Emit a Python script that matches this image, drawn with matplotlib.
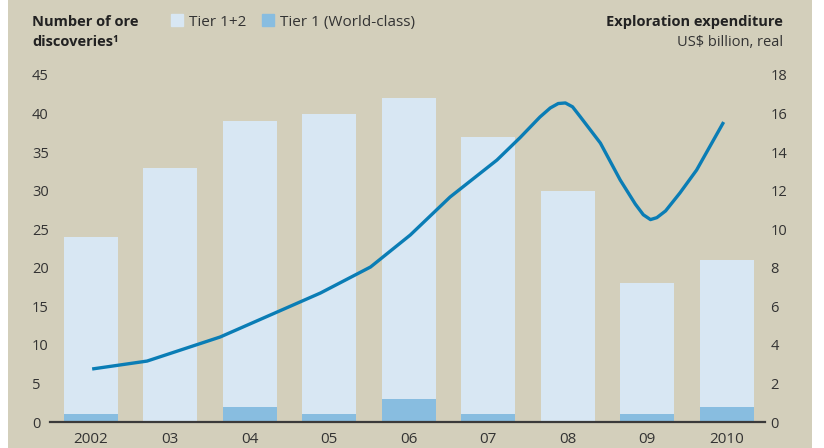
import numpy as np
import matplotlib.pyplot as plt
import matplotlib.patches as mpatches

plt.rcParams['font.family'] = ['Open Sans', 'DejaVu Sans']

# ── Data ─────────────────────────────────────────────────────────────────────
years = ['2002', '03', '04', '05', '06', '07', '08', '09', '2010']
tier12 = [24, 33, 39, 40, 42, 37, 30, 18, 21]
tier1 = [1, 0, 2, 1, 3, 1, 0, 1, 2]

# exploration expenditure (x in year-index units)
exp_x = [0.02, 0.71, 1.63, 2.26, 2.89, 3.52, 4.02, 4.52, 5.11, 5.40, 5.65,
         5.78, 5.88, 5.97, 6.06, 6.16, 6.41, 6.66, 6.85, 6.95, 7.04, 7.12,
         7.23, 7.41, 7.62, 7.96]
exp_y = [2.75, 3.16, 4.41, 5.55, 6.69, 8.04, 9.7, 11.67, 13.59, 14.75, 15.82,
         16.29, 16.52, 16.55, 16.35, 15.82, 14.47, 12.55, 11.3, 10.75, 10.5,
         10.6, 10.95, 11.88, 13.07, 15.56]

BG = '#d3cfbb'
LIGHT = '#d8e7f3'
DARK = '#88bde0'
LINE = '#0a7db5'
TXT = '#333333'

# ── Plot ─────────────────────────────────────────────────────────────────────
fig = plt.figure(figsize=(8.24, 4.48), dpi=100)
fig.patch.set_facecolor('white')
fig.patches.append(mpatches.Rectangle((8 / 824, 0), (812 - 8) / 824, 1,
                                      transform=fig.transFigure,
                                      facecolor=BG, edgecolor='none', zorder=-10))

ax = fig.add_axes([50 / 824, 26 / 448, 715 / 824, 347 / 448])
ax.set_facecolor('none')
x = np.arange(len(years))
ax.bar(x, tier12, width=0.68, color=LIGHT, zorder=2)
ax.bar(x, tier1, width=0.68, color=DARK, zorder=3)
ax.set_xlim(-0.51, 8.48)
ax.set_ylim(0, 45)
ax.set_yticks(range(0, 46, 5))
ax.set_xticks(x)
ax.set_xticklabels(years)

ax2 = ax.twinx()
ax2.plot(exp_x, exp_y, color=LINE, linewidth=2.4, solid_capstyle='butt',
         solid_joinstyle='round', zorder=5)
ax2.set_ylim(0, 18)
ax2.set_yticks(range(0, 19, 2))

for a in (ax, ax2):
    for s in a.spines.values():
        s.set_visible(False)
    a.tick_params(length=0, labelsize=10.5, colors=TXT)
ax.spines['bottom'].set_visible(True)
ax.spines['bottom'].set_color('#3a3a3a')
ax.spines['bottom'].set_linewidth(1.6)
ax.spines['bottom'].set_zorder(6)
ax.tick_params(axis='x', pad=7, labelsize=11)
ax.tick_params(axis='y', pad=13)
for lbl in ax.get_yticklabels():
    lbl.set_horizontalalignment('left')
ax2.tick_params(axis='y', pad=4)

# ── Header texts ─────────────────────────────────────────────────────────────
fig.text(32 / 824, 1 - 22 / 448, 'Number of ore', fontsize=10.5,
         fontweight='bold', color='#222222', ha='left', va='center')
fig.text(32 / 824, 1 - 42 / 448, 'discoveries\u00b9', fontsize=10.5,
         fontweight='bold', color='#222222', ha='left', va='center')
fig.text(783 / 824, 1 - 22 / 448, 'Exploration expenditure', fontsize=10.5,
         fontweight='bold', color='#222222', ha='right', va='center')
fig.text(783 / 824, 1 - 42 / 448, 'US$ billion, real', fontsize=10.5,
         color=TXT, ha='right', va='center')

handles = [mpatches.Patch(color=LIGHT, label='Tier 1+2'),
           mpatches.Patch(color=DARK, label='Tier 1 (World-class)')]
fig.legend(handles=handles, loc='center left', bbox_to_anchor=(157 / 824, 1 - 22 / 448),
           ncol=2, frameon=False, fontsize=11, handlelength=0.8, handleheight=0.8,
           handletextpad=0.4, columnspacing=1.0, labelcolor=TXT)

plt.savefig('out.png', dpi=100)
